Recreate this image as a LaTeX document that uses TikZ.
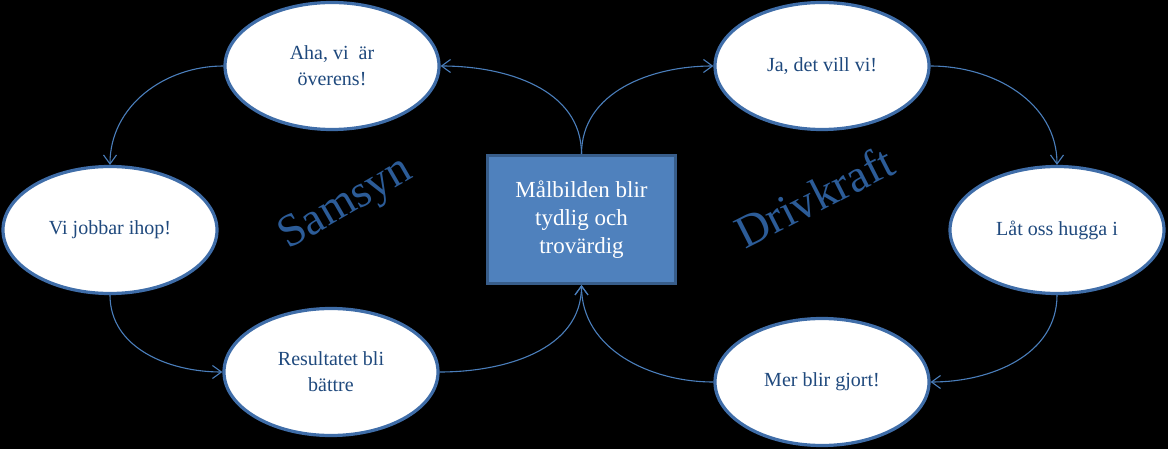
\documentclass[tikz,border=0pt]{standalone}
\usepackage{fontspec}
\setmainfont{Liberation Serif}
\usetikzlibrary{shapes.geometric,arrows.meta}
\definecolor{ebord}{HTML}{3F6DA8}
\definecolor{etext}{HTML}{1F497D}
\definecolor{rfill}{HTML}{4F81BD}
\definecolor{rbord}{HTML}{385D8A}
\definecolor{conn}{HTML}{4A7EBB}
\definecolor{big}{HTML}{2C5C98}
\begin{document}
\begin{tikzpicture}[x=1pt,y=-1pt,
  oval/.style={ellipse,draw=ebord,line width=3.2pt,fill=white,inner sep=0pt,
    minimum width=214pt,minimum height=127pt,text=etext,align=center,
    font=\fontsize{20}{26}\selectfont},
  box/.style={rectangle,draw=rbord,line width=3pt,fill=rfill,inner sep=0pt,
    minimum width=188pt,minimum height=128pt,text=white,align=center,
    font=\fontsize{23}{28}\selectfont},
  conarrow/.style={draw=conn,line width=1.1pt,-{Straight Barb[length=9pt,width=13pt,line width=1.1pt]}},
  bigword/.style={text=big,inner sep=0pt,font=\fontsize{46}{50}\selectfont}]
\fill[black] (0,0) rectangle (1168,449);
\useasboundingbox (0,0) rectangle (1168,449);
\node[box] (m) at (581.5,219.5) {Målbilden blir\\tydlig och\\trovärdig};
\node[oval] (aha) at (332,66) {Aha, vi~~är\\överens!};
\node[oval] (vi) at (110,230) {Vi jobbar ihop!};
\node[oval] (res) at (331,372) {Resultatet bli\\bättre};
\node[oval] (ja) at (822,66) {Ja, det vill vi!};
\node[oval] (lat) at (1057,230) {Låt oss hugga i};
\node[oval] (mer) at (822,382) {Mer blir gjort!};
\node[bigword,anchor=base west,rotate=30] (sam) at (288,250) {Samsyn};
\node[bigword,anchor=base west,rotate=27] (dri) at (745,250) {Drivkraft};
\draw[conarrow] (m.north) to[out=90,in=0] (aha.east);
\draw[conarrow] (aha.west) to[out=180,in=90] (vi.north);
\draw[conarrow] (vi.south) to[out=270,in=180] (res.west);
\draw[conarrow] (res.east) to[out=0,in=270] (m.south);
\draw[conarrow] (m.north) to[out=90,in=180] (ja.west);
\draw[conarrow] (ja.east) to[out=0,in=90] (lat.north);
\draw[conarrow] (lat.south) to[out=270,in=0] (mer.east);
\draw[conarrow] (mer.west) to[out=180,in=270] (m.south);
\end{tikzpicture}
\end{document}
